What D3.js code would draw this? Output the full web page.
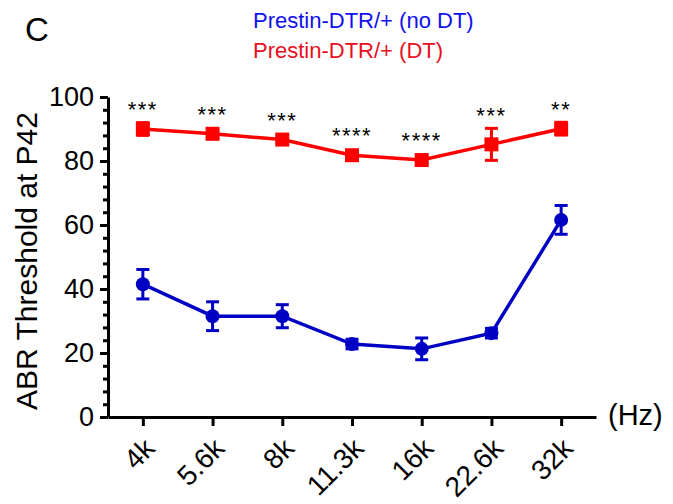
<!DOCTYPE html>
<html>
<head>
<meta charset="utf-8">
<script src="https://cdn.jsdelivr.net/npm/d3@7"></script>
<style>
  body { margin: 0; background: #fff; }
  text { font-family: "Liberation Sans", Arial, sans-serif; }
</style>
</head>
<body>
<div id="chart"></div>
<script>
const freqs = ['4k', '5.6k', '8k', '11.3k', '16k', '22.6k', '32k']
const dtMean = [90, 88.5, 86.7, 81.8, 80.3, 85.2, 90.1]
const dtSem = [2, 1, 1, 1, 1, 5, 2]
const noDtMean = [41.5, 31.5, 31.5, 22.8, 21.3, 26.2, 61.6]
const noDtSem = [4.6, 4.5, 3.6, 1.5, 3.4, 1.5, 4.5]
const stars = ['***', '***', '***', '****', '****', '***', '**']
const yTicks = [0, 20, 40, 60, 80, 100]
const yMinor = d3.range(0, 101, 4).filter(v => v % 20 !== 0)

const W = 673, H = 504
const margin = {top: 97, right: 77, bottom: 87, left: 108}

const blue = '#0000c4', red = '#ff0000'

const svg = d3.select('#chart').append('svg')
  .attr('width', W).attr('height', H)

const x = d3.scalePoint().domain(freqs)
  .range([margin.left, W - margin.right]).padding(0.5)
const y = d3.scaleLinear().domain([0, 100])
  .range([H - margin.bottom, margin.top])

// y axis
const yAxis = svg.append('g')
  .attr('transform', `translate(${margin.left},0)`)
  .call(d3.axisLeft(y).tickValues(yTicks).tickSize(8).tickSizeOuter(0).tickPadding(6))
yAxis.select('.domain').attr('stroke-width', 3)
yAxis.selectAll('.tick line').attr('stroke-width', 3)
yAxis.selectAll('.tick text').attr('font-size', 27).attr('fill', '#000')

svg.append('g')
  .attr('transform', `translate(${margin.left},0)`)
  .call(d3.axisLeft(y).tickValues(yMinor).tickSize(5).tickSizeOuter(0).tickFormat(''))
  .call(g => g.select('.domain').remove())
  .selectAll('.tick line').attr('stroke-width', 3)

// x axis
const xAxis = svg.append('g')
  .attr('transform', `translate(0,${H - margin.bottom})`)
  .call(d3.axisBottom(x).tickSize(9).tickSizeOuter(0))
xAxis.select('.domain').attr('stroke-width', 3)
xAxis.selectAll('.tick line').attr('stroke-width', 3)
xAxis.selectAll('.tick text')
  .attr('font-size', 28).attr('fill', '#000')
  .attr('text-anchor', 'end')
  .attr('transform', 'translate(13,33) rotate(-45)')
  .attr('y', 0).attr('dy', 0)

svg.append('text')
  .attr('x', W - margin.right + 12).attr('y', H - margin.bottom + 8)
  .attr('font-size', 29).text('(Hz)')

// y title
svg.append('text')
  .attr('transform', `translate(37,${(margin.top + H - margin.bottom) / 2 + 4}) rotate(-90)`)
  .attr('text-anchor', 'middle')
  .attr('font-size', 30).text('ABR Threshold at P42')

// panel letter and legend
svg.append('text').attr('x', 25).attr('y', 41).attr('font-size', 33).text('C')
svg.append('text').attr('x', 253).attr('y', 28).attr('font-size', 22)
  .attr('fill', '#1010ee').text('Prestin-DTR/+ (no DT)')
svg.append('text').attr('x', 253).attr('y', 58).attr('font-size', 22)
  .attr('fill', '#e8101e').text('Prestin-DTR/+ (DT)')

const line = d3.line().x(d => x(d.f)).y(d => y(d.m))

const drawSeries = (mean, sem, color, shape) => {
  const data = freqs.map((f, i) => ({f, m: mean[i], e: sem[i]}))
  const g = svg.append('g')
  g.append('path').datum(data)
    .attr('d', line).attr('fill', 'none')
    .attr('stroke', color).attr('stroke-width', 3.5)
  const eb = g.selectAll('g.err').data(data).enter().append('g')
    .attr('stroke', color).attr('stroke-width', 3)
  eb.append('line')
    .attr('x1', d => x(d.f)).attr('x2', d => x(d.f))
    .attr('y1', d => y(d.m - d.e)).attr('y2', d => y(d.m + d.e))
  eb.append('line')
    .attr('x1', d => x(d.f) - 6.5).attr('x2', d => x(d.f) + 6.5)
    .attr('y1', d => y(d.m + d.e)).attr('y2', d => y(d.m + d.e))
  eb.append('line')
    .attr('x1', d => x(d.f) - 6.5).attr('x2', d => x(d.f) + 6.5)
    .attr('y1', d => y(d.m - d.e)).attr('y2', d => y(d.m - d.e))
  if (shape === 'square') {
    g.selectAll('rect').data(data).enter().append('rect')
      .attr('x', d => x(d.f) - 7).attr('y', d => y(d.m) - 7)
      .attr('width', 14).attr('height', 14).attr('fill', color)
  } else {
    g.selectAll('circle').data(data).enter().append('circle')
      .attr('cx', d => x(d.f)).attr('cy', d => y(d.m))
      .attr('r', 7).attr('fill', color)
  }
  return data
}

drawSeries(noDtMean, noDtSem, blue, 'circle')
const dtData = drawSeries(dtMean, dtSem, red, 'square')

// significance stars
svg.append('g').selectAll('text').data(dtData).enter().append('text')
  .attr('x', d => x(d.f))
  .attr('y', d => Math.min(y(d.m + d.e), y(d.m) - 7) - 5)
  .attr('text-anchor', 'middle')
  .attr('font-size', 22).attr('letter-spacing', 1.5)
  .text((d, i) => stars[i])
</script>
</body>
</html>
